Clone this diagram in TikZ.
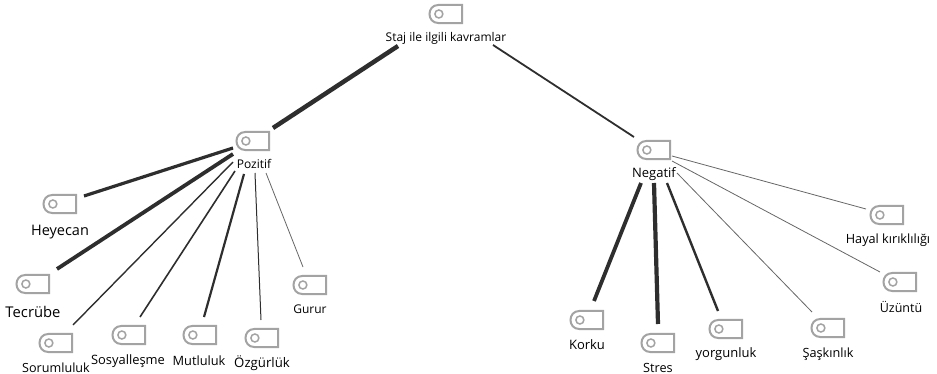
\documentclass[tikz,border=0pt]{standalone}
\usepackage{fontspec}
\setmainfont{Open Sans}
\tikzset{
  x=1pt,y=-1pt,
  tagline/.style={draw=black!36,line width=2pt,fill=white},
  tagdot/.style={draw=black!36,line width=1.5pt,fill=white},
  lab/.style={inner sep=0pt,text=black,font=\fontsize{#1}{#1}\selectfont},
  lab/.default=11,
  link/.style={draw=black!82,line width=#1},
  pics/tagicon/.style={code={
    \draw[tagline] (17,-9.5) -- (-8,-9.5) .. controls (-20.5,-9.5) and (-20.5,9.5) .. (-8,9.5) -- (17,9.5) -- cycle;
    \draw[tagdot] (-7.5,0) circle[radius=4.2];
  }}
}
\begin{document}
\begin{tikzpicture}
\useasboundingbox (0,0) rectangle (937,374);
% icons
\foreach \n/\cx/\cy in {top/446/14,poz/253/141,neg/654/150,hey/60/204,tec/33/284,sor/56/343,sos/129/335,mut/200/335,ozg/262/338,gur/310/285,kor/587/320,str/658/343,yor/726/329,sas/828/328,uzu/900/282,hay/887/215}
  {\pic[scale=0.95] at (\cx,\cy) {tagicon};}
% labels
\node[lab=12] (Ltop) at (446,38) {Staj ile ilgili kavramlar};
\node[lab=12] (Lpoz) at (254,164) {Pozitif};
\node[lab=13] (Lneg) at (654,174) {Negatif};
\node[lab=14.5] (Lhey) at (60,232) {Heyecan};
\node[lab=14.8] (Ltec) at (33,312) {Tecrübe};
\node[lab=12.6] (Lsor) at (56,368) {Sorumluluk};
\node[lab=12.9] (Lsos) at (128,361) {Sosyalleşme};
\node[lab=12.8] (Lmut) at (199,361) {Mutluluk};
\node[lab=13.2] (Lozg) at (262,363) {Özgürlük};
\node[lab=12] (Lgur) at (310,309) {Gurur};
\node[lab=13] (Lkor) at (587,345) {Korku};
\node[lab=12.7] (Lstr) at (658,368) {Stres};
\node[lab=13] (Lyor) at (726,354) {yorgunluk};
\node[lab=12.7] (Lsas) at (828,354) {Şaşkınlık};
\node[lab=12.5] (Luzu) at (901,307) {Üzüntü};
\node[lab=12.7] (Lhay) at (888,240) {Hayal kırıklılığı};
% connector ends
\foreach \n/\x/\y in {a1/398/46,a2/273/128,b1/493/45,b2/634/137,
 c1/233/148,c2/84/196,d1/233/154,d2/57/269,e1/233/162,e2/73/325,f1/235/171,f2/140/317,g1/244/174,g2/204/317,h1/255/173,h2/261/320,i1/266/173,i2/303/267,
 j1/641/183,j2/594/301,k1/654/183,k2/658/324,l1/667/183,l2/718/311,m1/677/173,m2/812/312,n1/672/161,n2/880/272,o1/672/156,o2/866/209}
  {\coordinate (\n) at (\x,\y);}
% connectors
\draw[link=4.5pt] (a1) -- (a2);
\draw[link=1.8pt] (b1) -- (b2);
\draw[link=3.2pt] (c1) -- (c2);
\draw[link=3.8pt] (d1) -- (d2);
\draw[link=1.4pt] (e1) -- (e2);
\draw[link=1.6pt] (f1) -- (f2);
\draw[link=2.2pt] (g1) -- (g2);
\draw[link=1pt] (h1) -- (h2);
\draw[link=0.8pt,draw=black!60] (i1) -- (i2);
\draw[link=3.8pt] (j1) -- (j2);
\draw[link=4.2pt] (k1) -- (k2);
\draw[link=2.4pt] (l1) -- (l2);
\draw[link=0.8pt,draw=black!60] (m1) -- (m2);
\draw[link=0.8pt,draw=black!60] (n1) -- (n2);
\draw[link=0.8pt,draw=black!60] (o1) -- (o2);
\end{tikzpicture}
\end{document}
